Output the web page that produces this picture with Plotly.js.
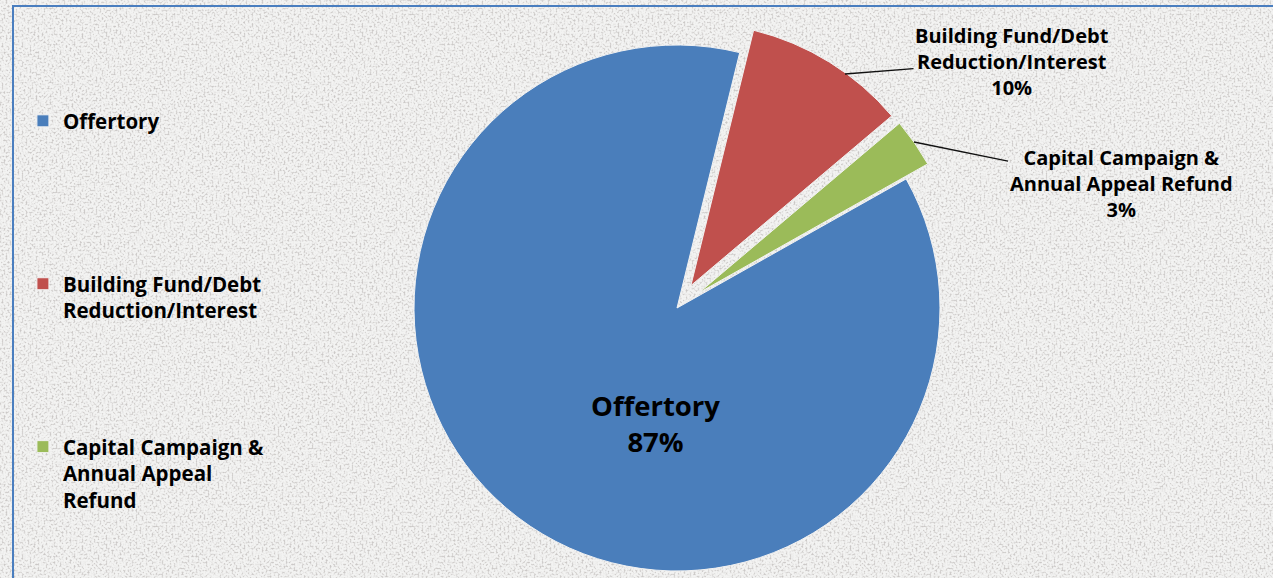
<!DOCTYPE html>
<html><head><meta charset="utf-8">
<script src="https://cdn.plot.ly/plotly-3.0.1.min.js"></script>
<style>
html,body{margin:0;padding:0;overflow:hidden;width:1273px;height:578px;}
#wrap{position:relative;width:1273px;height:578px;overflow:hidden;background-color:#f3f3f2;}
#frame{position:absolute;left:12px;top:5px;width:1400px;height:700px;border-left:2px solid #4a7ebf;border-top:2px solid #4a7ebf;pointer-events:none;}
#chart{position:absolute;left:0;top:0;width:1273px;height:620px;}
</style></head>
<body><div id="wrap"><div id="chart"></div><div id="frame"></div></div>
<script>
// ---- data ----
const categories = ['Offertory', 'Building Fund/Debt Reduction/Interest', 'Capital Campaign & Annual Appeal Refund'];
const values = [87, 10, 3];
const colors = ['#4a7ebb', '#c0504d', '#9bbb59'];
const legendLines = [['Offertory'], ['Building Fund/Debt', 'Reduction/Interest'], ['Capital Campaign &', 'Annual Appeal', 'Refund']];
const labelLines = [['Offertory'], ['Building Fund/Debt', 'Reduction/Interest'], ['Capital Campaign &', 'Annual Appeal Refund']];
const pulls = [0, 0.1, 0.1];

// ---- background texture ----
const noise = "<svg xmlns='http://www.w3.org/2000/svg' width='256' height='256'><filter id='n' x='0' y='0' width='100%' height='100%'><feTurbulence type='fractalNoise' baseFrequency='0.5' numOctaves='3' seed='4' stitchTiles='stitch'/><feColorMatrix type='matrix' values='0 0 0 0 0.6 0 0 0 0 0.58 0 0 0 0 0.57 3.4 0 0 0 -1.6'/></filter><rect width='256' height='256' filter='url(#n)'/></svg>";
document.getElementById('wrap').style.backgroundImage = 'url("data:image/svg+xml,' + encodeURIComponent(noise) + '")';

const H = 620, W = 1273;
const total = values.reduce((a, b) => a + b, 0);
const pct = values.map(v => Math.round(v / total * 100) + '%');

// legend labels padded to equal height (6 lines each)
const legendText = legendLines.map(lines => {
  const l = lines.slice();
  while (l.length < 6) l.push(' ');
  return l.join('<br>');
});

const trace = {
  type: 'pie',
  labels: legendText,
  values: values,
  sort: false,
  direction: 'clockwise',
  rotation: 60.6,
  pull: pulls,
  textinfo: 'none',
  hoverinfo: 'none',
  marker: {colors: colors, line: {color: '#f2f2f2', width: 1}},
  domain: {x: [0.30456, 0.75907], y: [0.03661, 0.96984]},
  showlegend: true
};

const lf = {family: 'Open Sans', size: 20, color: '#000', weight: 700};
const annotations = [
  {xref: 'paper', yref: 'paper', x: 655 / W, y: 1 - 423 / H, xanchor: 'center', yanchor: 'middle', showarrow: false,
   text: labelLines[0].join('<br>') + '<br>' + pct[0],
   font: {family: 'Open Sans', size: 27.5, color: '#000', weight: 700}},
  {xref: 'paper', yref: 'paper', x: 845 / W, y: 1 - 74 / H, showarrow: true,
   ax: 167, ay: -13, arrowhead: 0, arrowwidth: 1.3, arrowcolor: '#111',
   text: labelLines[1].join('<br>') + '<br>' + pct[1], font: lf},
  {xref: 'paper', yref: 'paper', x: 914 / W, y: 1 - 142 / H, showarrow: true,
   ax: 207, ay: 42, arrowhead: 0, arrowwidth: 1.3, arrowcolor: '#111',
   text: labelLines[2].join('<br>') + '<br>' + pct[2], font: lf}
];

const layout = {
  width: W, height: H,
  margin: {l: 0, r: 0, t: 0, b: 0},
  paper_bgcolor: 'rgba(0,0,0,0)',
  plot_bgcolor: 'rgba(0,0,0,0)',
  showlegend: true,
  legend: {x: 0.018, y: 1 - 101 / H, xanchor: 'left', yanchor: 'top', valign: 'top',
           bgcolor: 'rgba(0,0,0,0)', font: {family: 'Open Sans', size: 20.5, color: '#000', weight: 700}},
  annotations: annotations
};

Plotly.newPlot('chart', [trace], layout, {displayModeBar: false, staticPlot: true});
</script>
</body></html>
